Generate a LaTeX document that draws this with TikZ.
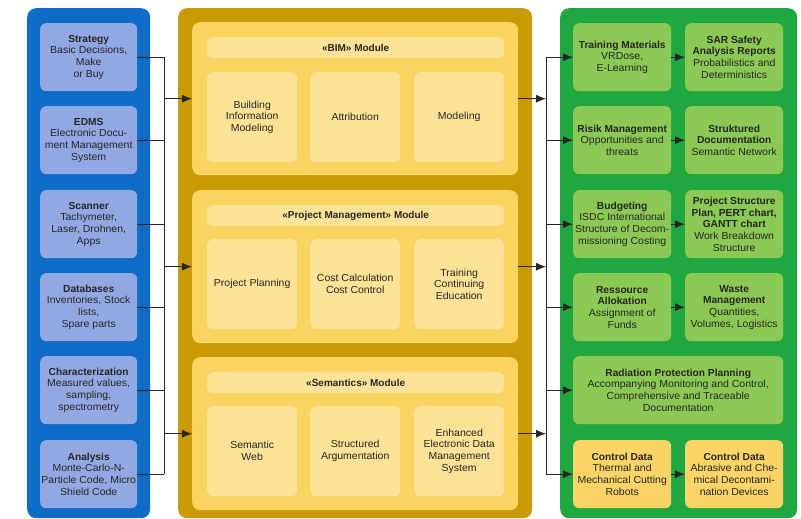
\documentclass[tikz,border=0pt]{standalone}
\usepackage{fontspec}
\setmainfont{Liberation Sans}[UprightFeatures={FakeStretch=1.03}]
\usetikzlibrary{arrows.meta,positioning}
\definecolor{inpanel}{RGB}{14,108,198}
\definecolor{inbox}{RGB}{146,168,226}
\definecolor{modframe}{RGB}{201,154,4}
\definecolor{modfill}{RGB}{249,212,96}
\definecolor{partfill}{RGB}{251,226,150}
\definecolor{outpanel}{RGB}{32,168,64}
\definecolor{outbox}{RGB}{140,200,84}
\definecolor{ctrlfill}{RGB}{250,212,102}
\tikzset{panel/.style={anchor=north west,rounded corners=9pt,inner sep=0pt}}
\tikzset{box/.style={anchor=north west,rounded corners=6pt,inner sep=0pt,align=center,text=black!85}}
\tikzset{src/.style={box,fill=inbox,minimum width=97pt,minimum height=68pt}}
\tikzset{dst/.style={box,fill=outbox,minimum width=98pt,minimum height=68pt}}
\tikzset{ctrl/.style={dst,fill=ctrlfill}}
\tikzset{module/.style={panel,fill=modfill,rounded corners=8pt,minimum width=326pt,minimum height=153pt}}
\tikzset{modtitle/.style={box,fill=partfill,minimum width=297pt,minimum height=21pt,font=\bfseries}}
\tikzset{part/.style={box,fill=partfill,minimum width=90pt,minimum height=90pt}}
\tikzset{bus/.style={draw=black!85,line width=0.9pt}}
\tikzset{feed/.style={bus,-{Latex[length=10pt,width=8pt]}}}

\begin{document}
\begin{tikzpicture}[x=1pt,y=-1pt,font=\fontsize{10.2}{11.7}\selectfont]
\useasboundingbox (0,0) rectangle (801,519);
% the three columns
\node[panel,fill=inpanel,minimum width=123pt,minimum height=510pt] (inputs) at (27,8) {};
\node[panel,fill=modframe,minimum width=354pt,minimum height=510pt] (core) at (178,8) {};
\node[panel,fill=outpanel,minimum width=237pt,minimum height=510pt] (outputs) at (560,8) {};
\coordinate (lbus) at (164,0);
\coordinate (rbus) at (546,0);

% input sources
\node[src] (strat) at (40,23) {\textbf{Strategy}\\Basic Decisions,\\Make\\or Buy};
\node[src] (edms) at (40,106) {\textbf{EDMS}\\Electronic Docu-\\ment Management\\System};
\node[src] (scan) at (40,190) {\textbf{Scanner}\\Tachymeter,\\Laser, Drohnen,\\Apps};
\node[src] (datab) at (40,273) {\textbf{Databases}\\Inventories, Stock\\lists,\\Spare parts};
\node[src] (charac) at (40,356) {\textbf{Characterization}\\Measured values,\\sampling,\\spectrometry};
\node[src] (anal) at (40,440) {\textbf{Analysis}\\Monte-Carlo-N-\\Particle Code, Micro\\Shield Code};

% modules
\node[module] (bim) at (192,22) {};
\node[modtitle] (bimt) at (207,37) {«BIM» Module};
\node[part] (bima) at (207,72) {Building\\Information\\Modeling};
\node[part] (bimb) at (310,72) {Attribution};
\node[part] (bimc) at (414,72) {Modeling};

\node[module] (pm) at (192,190) {};
\node[modtitle] (pmt) at (207,205) {«Project Management» Module};
\node[part] (pma) at (207,239) {Project Planning};
\node[part] (pmb) at (310,239) {Cost Calculation\\Cost Control};
\node[part] (pmc) at (414,239) {Training\\Continuing\\Education};

\node[module] (sem) at (192,357) {};
\node[modtitle] (semt) at (207,372) {«Semantics» Module};
\node[part] (sema) at (207,406) {Semantic\\Web};
\node[part] (semb) at (310,406) {Structured\\Argumentation};
\node[part] (semc) at (414,406) {Enhanced\\Electronic Data\\Management\\System};

% results
\node[dst] (train) at (573,23) {\textbf{Training Materials}\\VRDose,\\E-Learning};
\node[dst] (sar) at (685,23) {\textbf{SAR Safety}\\\textbf{Analysis Reports}\\Probabilistics and\\Deterministics};
\node[dst] (risk) at (573,106) {\textbf{Risik Management}\\Opportunities and\\threats};
\node[dst] (docu) at (685,106) {\textbf{Struktured}\\\textbf{Documentation}\\Semantic Network};
\node[dst] (budget) at (573,190) {\textbf{Budgeting}\\ISDC International\\Structure of Decom-\\missioning Costing};
\node[dst] (psp) at (685,190) {\textbf{Project Structure}\\\textbf{Plan, PERT chart,}\\\textbf{GANTT chart}\\Work Breakdown\\Structure};
\node[dst] (ress) at (573,273) {\textbf{Ressource}\\\textbf{Allokation}\\Assignment of\\Funds};
\node[dst] (waste) at (685,273) {\textbf{Waste}\\\textbf{Management}\\Quantities,\\Volumes, Logistics};
\node[dst,minimum width=210pt] (radia) at (573,356) {\textbf{Radiation Protection Planning}\\Accompanying Monitoring and Control,\\Comprehensive and Traceable\\Documentation};
\node[ctrl] (ctrla) at (573,440) {\textbf{Control Data}\\Thermal and\\Mechanical Cutting\\Robots};
\node[ctrl] (ctrlb) at (685,440) {\textbf{Control Data}\\Abrasive and Che-\\mical Decontami-\\nation Devices};

% connectors
\foreach \b in {strat,edms,scan,datab,charac,anal}
  \draw[bus] (\b.east) -- (\b.east -| lbus);
\draw[bus] (strat.east -| lbus) -- (anal.east -| lbus);
\foreach \m in {bim,pm,sem} {
  \draw[feed] (\m.west -| lbus) -- (\m.west);
  \draw[feed] (\m.east) -- (\m.east -| rbus);
}
\draw[bus] (train.west -| rbus) -- (ctrla.west -| rbus);
\foreach \b in {train,risk,budget,ress,radia,ctrla}
  \draw[feed] (\b.west -| rbus) -- (\b.west);
\foreach \a/\b in {train/sar,risk/docu,budget/psp,ress/waste,ctrla/ctrlb}
  \draw[feed] (\a.east) -- (\b.west);
\end{tikzpicture}
\end{document}
